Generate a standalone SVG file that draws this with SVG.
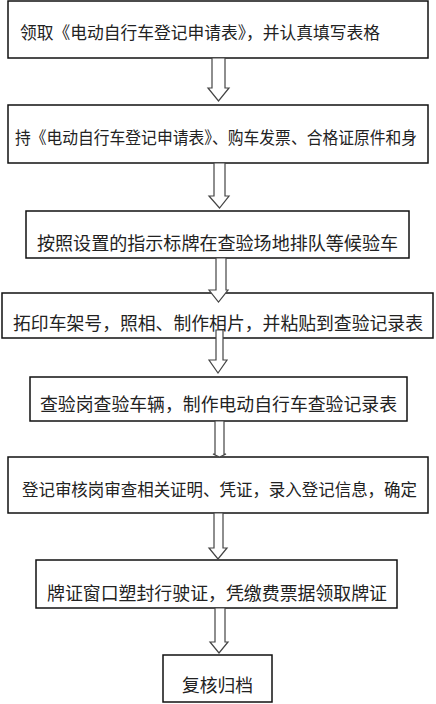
<svg xmlns="http://www.w3.org/2000/svg" width="436" height="704" viewBox="0 0 436 704">
<style>
.box{fill:#fff;stroke:#111;stroke-width:1.5}
.t{font-family:"Noto Sans CJK SC","Microsoft YaHei",sans-serif;fill:#222;dominant-baseline:central}
.arr{fill:#fff;stroke:#444;stroke-width:1.2;stroke-linejoin:miter}
</style>
<rect width="436" height="704" fill="#fff"/>
<g id="n1"><rect class="box" x="8" y="1" width="420" height="57"/><text class="t" x="20" y="31.5" font-size="17" textLength="360" lengthAdjust="spacingAndGlyphs">领取《电动自行车登记申请表》，并认真填写表格</text></g>
<g id="n2"><rect class="box" x="8" y="105" width="420" height="58"/><text class="t" x="15" y="136.5" font-size="17" textLength="402" lengthAdjust="spacingAndGlyphs">持《电动自行车登记申请表》、购车发票、合格证原件和身</text></g>
<g id="n3"><rect class="box" x="26" y="211" width="383" height="47"/><text class="t" x="37" y="242" font-size="18" textLength="361" lengthAdjust="spacingAndGlyphs">按照设置的指示标牌在查验场地排队等候验车</text></g>
<g id="n4"><rect class="box" x="2" y="293" width="431" height="45"/><text class="t" x="13" y="321.5" font-size="18" textLength="410" lengthAdjust="spacingAndGlyphs">拓印车架号，照相、制作相片，并粘贴到查验记录表</text></g>
<g id="n5"><rect class="box" x="30" y="377" width="377" height="44"/><text class="t" x="40" y="402.5" font-size="18" textLength="357" lengthAdjust="spacingAndGlyphs">查验岗查验车辆，制作电动自行车查验记录表</text></g>
<g id="n6"><rect class="box" x="8" y="457" width="420" height="56"/><text class="t" x="22" y="488" font-size="17" textLength="395" lengthAdjust="spacingAndGlyphs">登记审核岗审查相关证明、凭证，录入登记信息，确定</text></g>
<g id="n7"><rect class="box" x="36" y="560" width="361" height="48"/><text class="t" x="47" y="592" font-size="18" textLength="340" lengthAdjust="spacingAndGlyphs">牌证窗口塑封行驶证，凭缴费票据领取牌证</text></g>
<g id="n8"><rect class="box" x="163" y="655" width="109" height="47"/><text class="t" x="182" y="684" font-size="18" textLength="71" lengthAdjust="spacingAndGlyphs">复核归档</text></g>
<g id="connectors">
<polygon class="arr" points="212,58 225,58 225,88 229,88 218.5,101 208,88 212,88"/>
<polygon class="arr" points="214,163 225,163 225,196 229,196 219.5,208 209,196 214,196"/>
<polygon class="arr" points="216,258 226,258 226,290 228,290 218.5,302 209,290 216,290"/>
<polygon class="arr" points="216,330 223,330 223,360 227,360 218,373 209,360 216,360"/>
<polygon class="arr" points="215,421 224,421 224,454 226,454 219.5,457 213,454 215,454"/>
<polygon class="arr" points="214,513 223,513 223,548 227,548 218,559 209,548 214,548"/>
<polygon class="arr" points="215,608 225,608 225,642 228,642 219,653 210,642 215,642"/>
</g>
</svg>
